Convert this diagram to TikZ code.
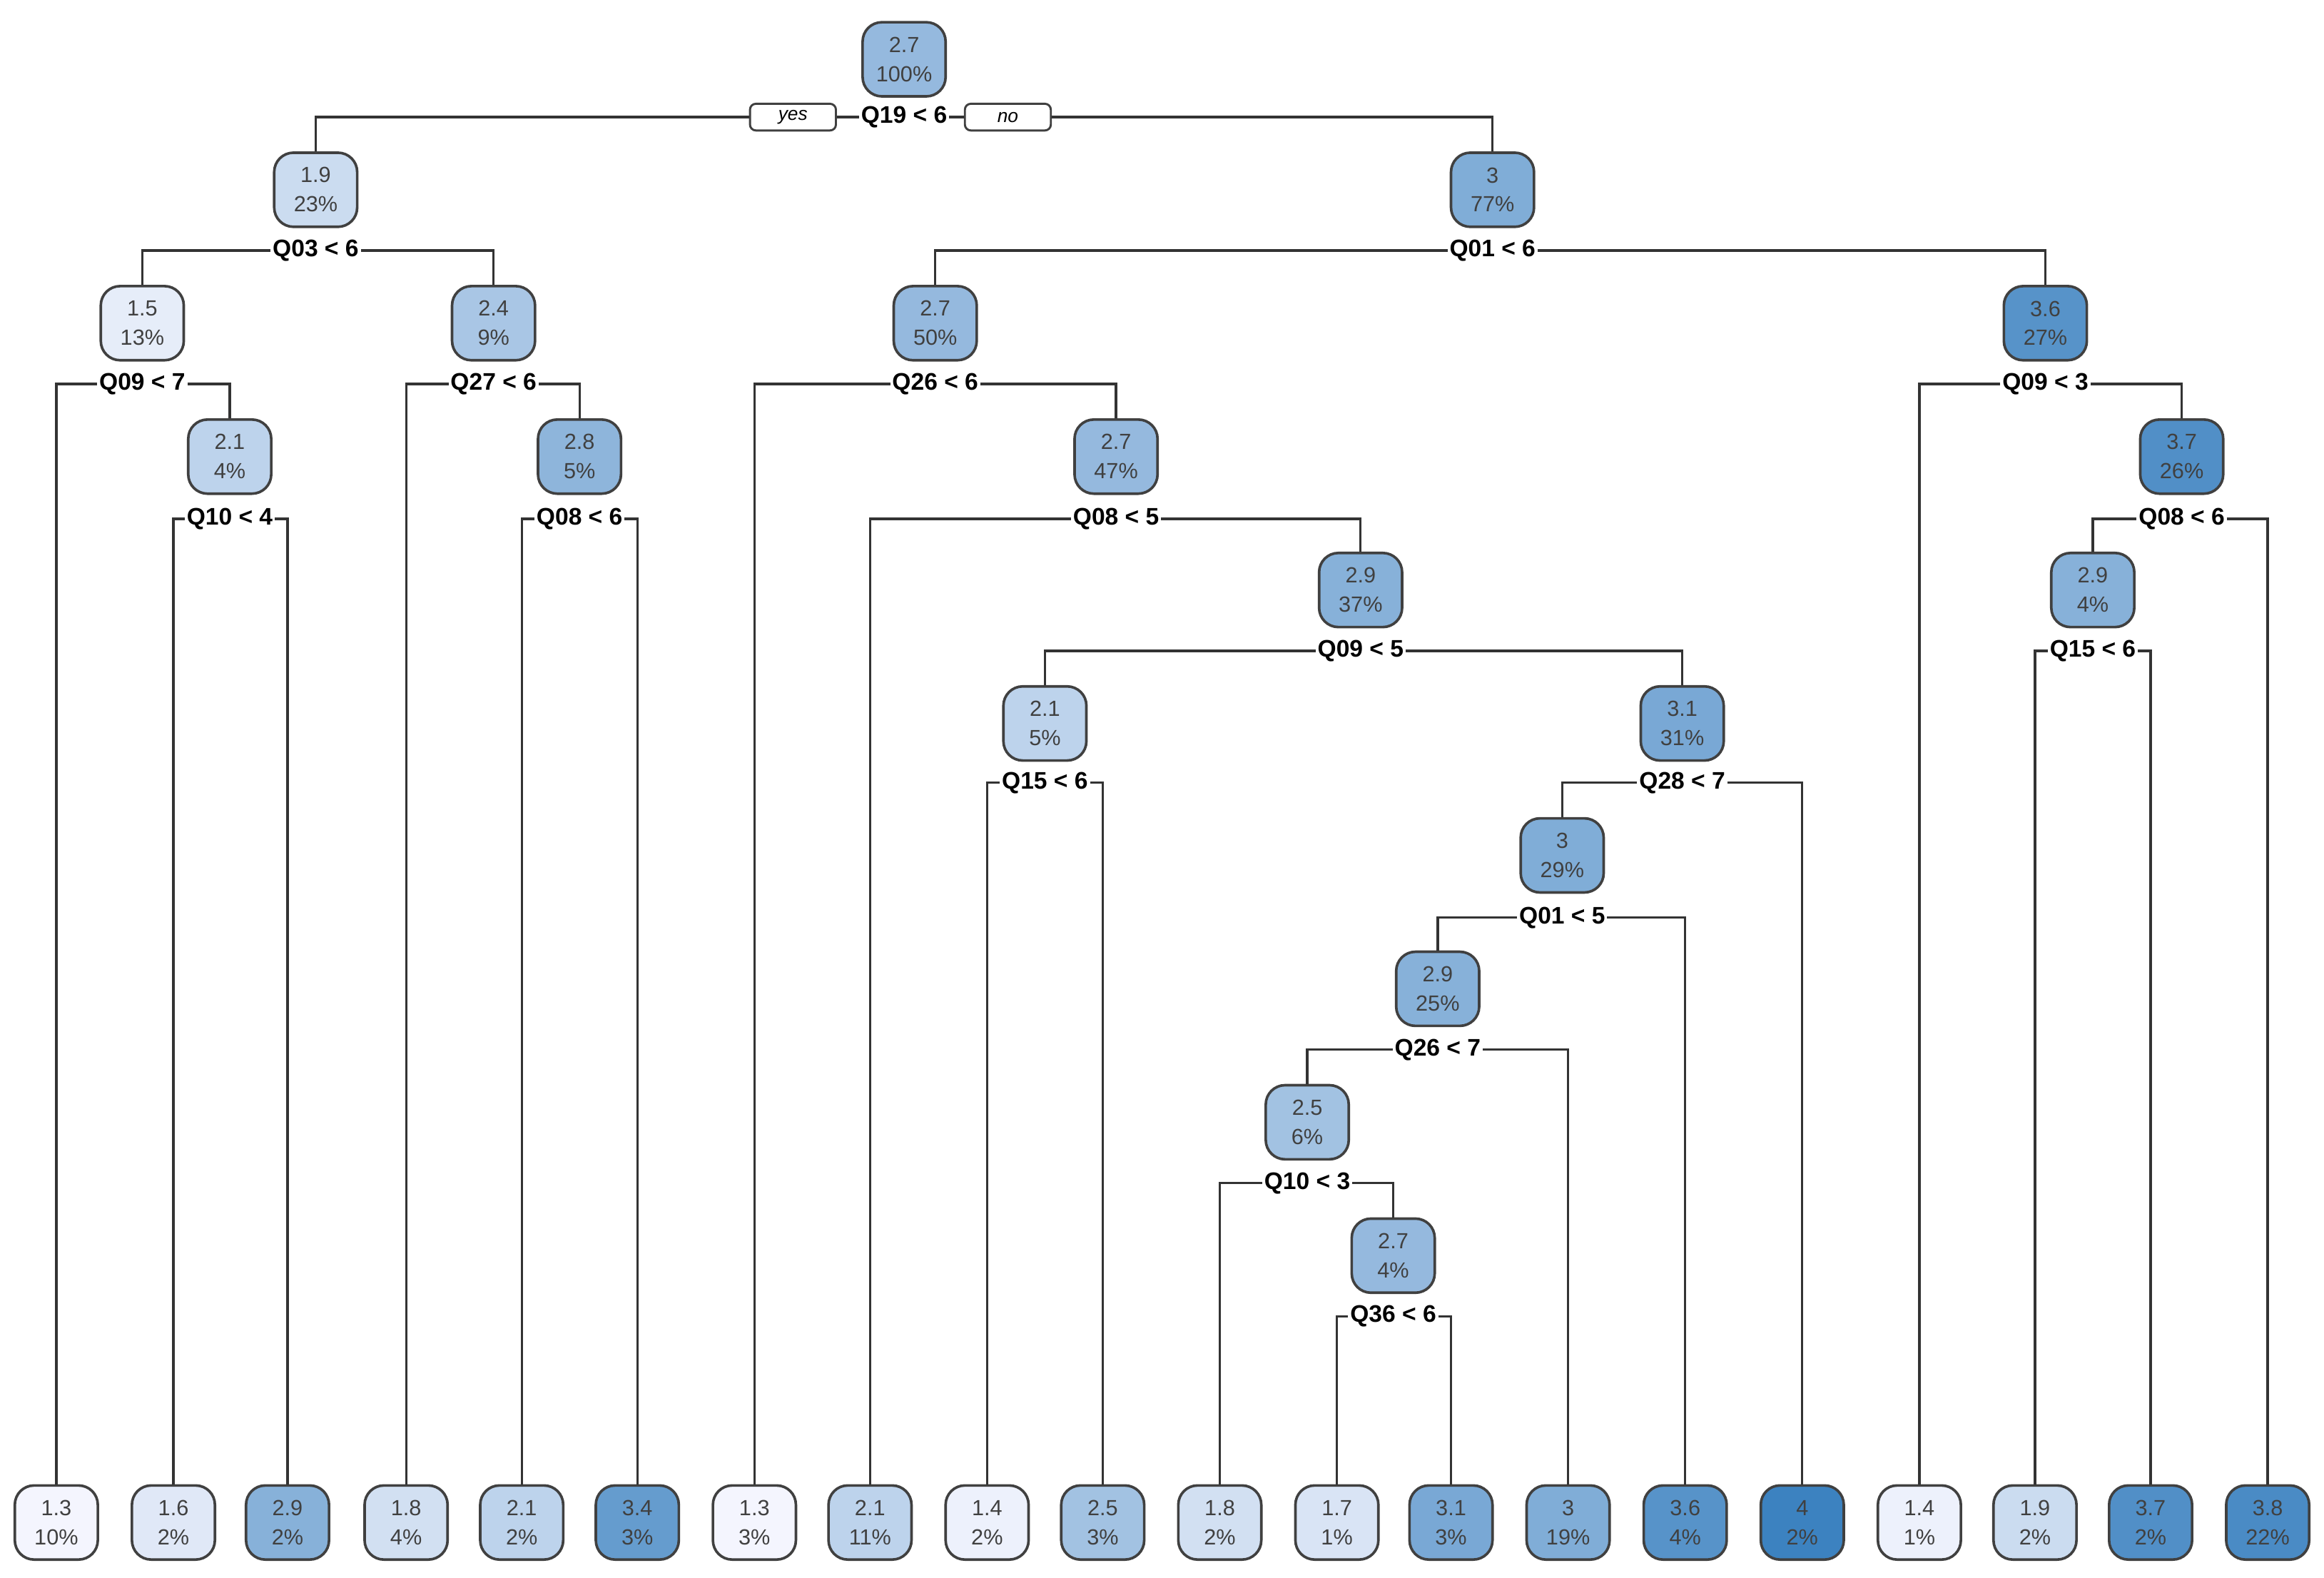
\documentclass[tikz,border=0pt]{standalone}
\usepackage{fontspec}
\setmainfont{Liberation Sans}
\definecolor{deepblue}{RGB}{62,134,190}
\tikzset{
  tbox/.style={draw=black!75, line width=0.5pt, rounded corners=1.3mm,
    minimum width=5.6mm, minimum height=5mm, inner sep=0pt, align=center,
    font=\fontsize{4.2}{5.6}\selectfont, text=black!75},
  split/.style={fill=white, inner sep=0.4pt, font=\fontsize{4.6}{5}\selectfont\bfseries},
  yn/.style={draw=black!75, fill=white, rounded corners=0.4mm, minimum width=5.8mm,
    minimum height=1.8mm, inner sep=0pt, font=\fontsize{3.6}{4}\selectfont\itshape},
  link/.style={draw=black!80, line width=0.45pt}
}
% tree box: name, x, y, value, percent
\newcommand\tbx[5]{%
  \pgfmathsetmacro\shade{max(0,min(100,(#4-1.25)/2.75*100))}%
  \node[tbox, fill=deepblue!\shade!white!97!blue] (#1) at (#2,#3) {#4\\#5\%};}
\begin{document}
\begin{tikzpicture}[x=0.1mm, y=-0.1mm]
  \useasboundingbox (0,0) rectangle (1568,1064);

  % inner nodes
  \tbx{n1}{610}{40}{2.7}{100}
  \tbx{n2}{213}{128}{1.9}{23}
  \tbx{n3}{1007}{128}{3}{77}
  \tbx{n4}{96}{218}{1.5}{13}
  \tbx{n5}{333}{218}{2.4}{9}
  \tbx{n6}{631}{218}{2.7}{50}
  \tbx{n7}{1380}{218}{3.6}{27}
  \tbx{n8}{155}{308}{2.1}{4}
  \tbx{n9}{391}{308}{2.8}{5}
  \tbx{n10}{753}{308}{2.7}{47}
  \tbx{n11}{1472}{308}{3.7}{26}
  \tbx{n12}{918}{398}{2.9}{37}
  \tbx{n13}{1412}{398}{2.9}{4}
  \tbx{n14}{705}{488}{2.1}{5}
  \tbx{n15}{1135}{488}{3.1}{31}
  \tbx{n16}{1054}{577}{3}{29}
  \tbx{n17}{970}{667}{2.9}{25}
  \tbx{n18}{882}{757}{2.5}{6}
  \tbx{n19}{940}{847}{2.7}{4}

  % leaves
  \tbx{l1}{38}{1027}{1.3}{10}
  \tbx{l2}{117}{1027}{1.6}{2}
  \tbx{l3}{194}{1027}{2.9}{2}
  \tbx{l4}{274}{1027}{1.8}{4}
  \tbx{l5}{352}{1027}{2.1}{2}
  \tbx{l6}{430}{1027}{3.4}{3}
  \tbx{l7}{509}{1027}{1.3}{3}
  \tbx{l8}{587}{1027}{2.1}{11}
  \tbx{l9}{666}{1027}{1.4}{2}
  \tbx{l10}{744}{1027}{2.5}{3}
  \tbx{l11}{823}{1027}{1.8}{2}
  \tbx{l12}{902}{1027}{1.7}{1}
  \tbx{l13}{979}{1027}{3.1}{3}
  \tbx{l14}{1058}{1027}{3}{19}
  \tbx{l15}{1137}{1027}{3.6}{4}
  \tbx{l16}{1216}{1027}{4}{2}
  \tbx{l17}{1295}{1027}{1.4}{1}
  \tbx{l18}{1373}{1027}{1.9}{2}
  \tbx{l19}{1451}{1027}{3.7}{2}
  \tbx{l20}{1530}{1027}{3.8}{22}

  % splits: name, label, left child, right child
  \foreach \s/\x/\y/\t/\l/\r in {
      s1/610/79/Q19 < 6/n2/n3,
      s2/213/169/Q03 < 6/n4/n5,
      s3/1007/169/Q01 < 6/n6/n7,
      s4/96/259/Q09 < 7/l1/n8,
      s5/333/259/Q27 < 6/l4/n9,
      s6/631/259/Q26 < 6/l7/n10,
      s7/1380/259/Q09 < 3/l17/n11,
      s8/155/350/Q10 < 4/l2/l3,
      s9/391/350/Q08 < 6/l5/l6,
      s10/753/350/Q08 < 5/l8/n12,
      s11/1472/350/Q08 < 6/n13/l20,
      s12/918/439/Q09 < 5/n14/n15,
      s13/1412/439/Q15 < 6/l18/l19,
      s14/705/528/Q15 < 6/l9/l10,
      s15/1135/528/Q28 < 7/n16/l16,
      s16/1054/619/Q01 < 5/n17/l15,
      s17/970/708/Q26 < 7/n18/l14,
      s18/882/798/Q10 < 3/l11/n19,
      s19/940/888/Q36 < 6/l12/l13} {
    \coordinate (\s) at (\x,\y);
    \draw[link] (\l.north) |- (\s) -| (\r.north);
    \node[split] at (\s) {\t};
  }

  % yes / no tags
  \node[yn] (yes) at (535,79) {yes};
  \node[yn] (no) at (680,79) {no};
\end{tikzpicture}
\end{document}
